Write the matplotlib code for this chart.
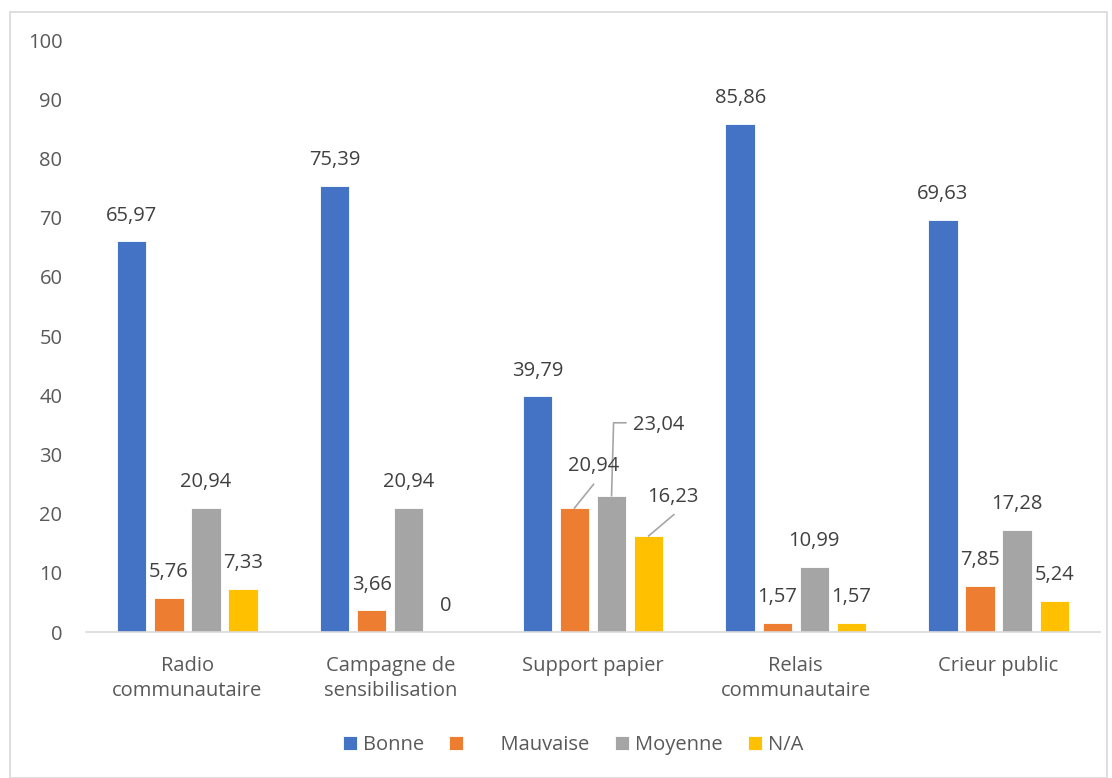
import matplotlib
matplotlib.use("Agg")
import matplotlib.pyplot as plt
from matplotlib.patches import Rectangle
import numpy as np

categories = ["Radio\ncommunautaire", "Campagne de\nsensibilisation", "Support papier",
              "Relais\ncommunautaire", "Crieur public"]
series_names = ["Bonne", "      Mauvaise", "Moyenne", "N/A"]
bonne = [65.97, 75.39, 39.79, 85.86, 69.63]
mauvaise = [5.76, 3.66, 20.94, 1.57, 7.85]
moyenne = [20.94, 20.94, 23.04, 10.99, 17.28]
na = [7.33, 0, 16.23, 1.57, 5.24]
yticks = [0, 10, 20, 30, 40, 50, 60, 70, 80, 90, 100]

colors = ["#4472C4", "#ED7D31", "#A5A5A5", "#FFC000"]
series = [bonne, mauvaise, moyenne, na]

FS = 14.5
plt.rcParams['font.family'] = ['Open Sans', 'DejaVu Sans']
fig = plt.figure(figsize=(11.12, 7.78), dpi=100)
ax = fig.add_axes([86/1112, 1-632/778, (1100-86)/1112, (632-40)/778])

n = len(categories)
x = np.arange(n)
bw = 0.145
step = 0.183
offsets = [(-1.5 + i) * step for i in range(4)]

fmt = lambda v: f"{v:.2f}".replace(".", ",") if v != 0 else "0"

for i, (vals, col, name) in enumerate(zip(series, colors, series_names)):
    ax.bar(x + offsets[i], vals, width=bw, color=col, label=name,
           edgecolor="white", linewidth=0.6)

label_color = "#404040"
for i, vals in enumerate(series):
    for j, v in enumerate(vals):
        if j == 2 and i > 0:
            continue
        xc = x[j] + offsets[i]
        ax.annotate(fmt(v), (xc, v), xytext=(0, 18.5), textcoords="offset points",
                    ha="center", va="center", fontsize=FS, color=label_color)

# leader-line labels for Support papier
lc = "#A6A6A6"
j = 2
# Mauvaise
v = mauvaise[j]; xc = x[j] + offsets[1]
ax.plot([xc, xc + 0.094], [v, v + 4.0], color=lc, lw=1.2)
ax.text(xc + 0.094, v + 7.1, fmt(v), ha="center", va="center", fontsize=FS, color=label_color)
# Moyenne
v = moyenne[j]; xc = x[j] + offsets[2]
ax.plot([xc, xc + 0.01, xc + 0.07], [v, v + 12.3, v + 12.3], color=lc, lw=1.2)
ax.text(xc + 0.105, v + 12.0, fmt(v), ha="left", va="center", fontsize=FS, color=label_color)
# N/A
v = na[j]; xc = x[j] + offsets[3]
ax.plot([xc, xc + 0.124], [v, v + 3.6], color=lc, lw=1.2)
ax.text(xc + 0.12, v + 6.6, fmt(v), ha="center", va="center", fontsize=FS, color=label_color)

ax.set_xlim(-0.5, n - 0.5)
ax.set_ylim(0, 100)
ax.set_yticks(yticks)
ax.set_xticks(x)
ax.set_xticklabels(categories, fontsize=FS, color="#595959", linespacing=1.38)
ax.tick_params(axis="y", length=0, labelsize=FS, labelcolor="#595959", pad=17)
ax.tick_params(axis="x", length=0, pad=17)
for s in ["top", "right", "left"]:
    ax.spines[s].set_visible(False)
ax.spines["bottom"].set_color("#D9D9D9")
ax.spines["bottom"].set_linewidth(1.2)

leg = fig.legend(loc="center", bbox_to_anchor=(573/1112, 1-745/778), ncol=4, frameon=False,
                 fontsize=FS, handlelength=0.7, handleheight=0.7, columnspacing=1.25,
                 handletextpad=0.3)
for t in leg.get_texts():
    t.set_color("#595959")

fig.patches.append(Rectangle((10/1112, 0.0), 1097/1112, 1 - 12/778, transform=fig.transFigure,
                             fill=False, edgecolor="#D9D9D9", linewidth=1.2))

fig.savefig("out.png", dpi=100)
